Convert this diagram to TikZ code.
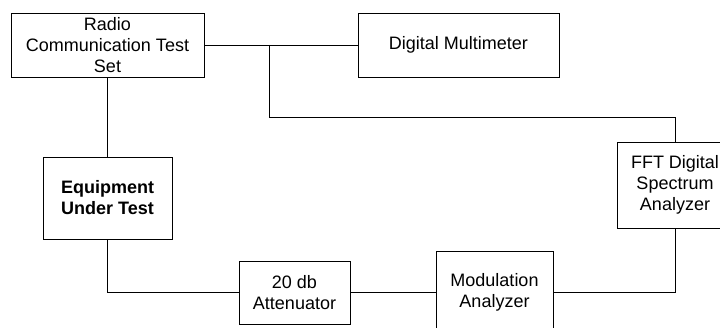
\documentclass[tikz,border=0pt]{standalone}
\usepackage{fontspec}
\setmainfont{Liberation Sans}
\begin{document}
\begin{tikzpicture}[x=1pt,y=1pt,
  box/.style={draw, line width=0.8pt, rectangle, inner sep=0pt, align=center,
    font=\fontsize{18}{21}\selectfont},
  wire/.style={line width=0.8pt}]
\useasboundingbox (0,0) rectangle (720,-328);
\node[box, minimum width=193, minimum height=64] (rcts) at (107.5,-45) {Radio\\Communication Test\\Set};
\node[box, minimum width=201, minimum height=64] (dmm) at (458.5,-45) {Digital Multimeter};
\node[box, minimum width=129, minimum height=82, font=\bfseries\fontsize{18}{21}\selectfont] (eut) at (107.5,-198) {Equipment\\Under Test};
\node[box, minimum width=116, minimum height=86] (fft) at (675,-185) {FFT Digital\\Spectrum\\Analyzer};
\node[box, minimum width=111, minimum height=63] (att) at (294.5,-292.5) {20 db\\Attenuator};
\node[box, minimum width=117, minimum height=83] (mod) at (494.5,-292.5) {Modulation\\Analyzer};
\coordinate (br) at (269,-45);
\coordinate (tu) at (675,-117);
\draw[wire] (rcts.east) -- (dmm.west);
\draw[wire] (br) |- (tu) -- (fft.north);
\draw[wire] (rcts.south) -- (eut.north);
\draw[wire] (eut.south) |- (att.west);
\draw[wire] (att.east) -- (mod.west);
\draw[wire] (mod.east) -| (fft.south);
\end{tikzpicture}
\end{document}
